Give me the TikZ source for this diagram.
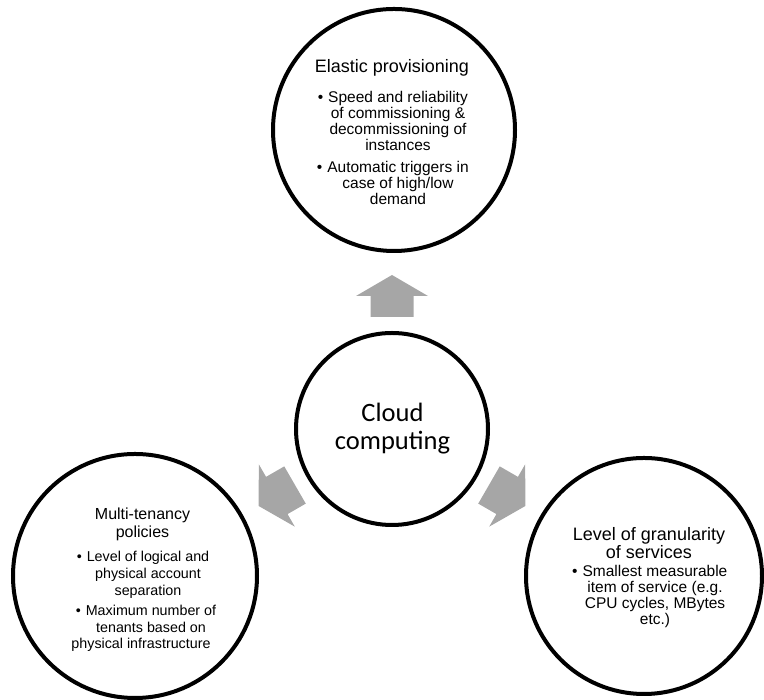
\documentclass[tikz,border=0pt]{standalone}
\usepackage{fontspec}
\setmainfont{Liberation Sans}
\newfontfamily\calibfont{Carlito}
\usetikzlibrary{calc}
\definecolor{arrowgray}{RGB}{166,166,166}
\newcommand\itembul{\llap{\textbullet\hspace{5pt}}}
\begin{document}
\begin{tikzpicture}[x=1pt,y=1pt,
  ring/.style={circle, draw=black, line width=4pt, inner sep=0pt, minimum size=#1},
  titletext/.style={font=\fontsize{18}{18}\selectfont, align=center, inner sep=0pt},
  itemtext/.style={font=\fontsize{15.5}{16.3}\selectfont, align=center, inner sep=0pt},
  smalltitle/.style={font=\fontsize{16}{18}\selectfont, align=center, inner sep=0pt},
  smallitem/.style={font=\fontsize{14.3}{16.8}\selectfont, align=center, inner sep=0pt},
  centertext/.style={font=\calibfont\fontsize{26.5}{28}\selectfont, align=center, inner sep=0pt},
  blockarrow/.style={fill=arrowgray, draw=none}]
\useasboundingbox (0,0) rectangle (764,700);
% circles
\node[ring=192pt] (C) at (392,271) {};
\node[ring=242pt] (T) at (394,570) {};
\node[ring=244pt] (L) at (135,124) {};
\node[ring=236pt] (R) at (644,124) {};
% centre text
\node[centertext] (Ctext) at (392.5,271) {Cloud\\computing};
% top circle text
\node[titletext] (Ttitle) at (392,632) {Elastic provisioning};
\node[itemtext] (Titem1) at (398,579) {\itembul Speed and reliability\\of commissioning \&\\decommissioning of\\instances};
\node[itemtext] (Titem2) at (398,517) {\itembul Automatic triggers in\\case of high/low\\demand};
% left circle text
\node[smalltitle] (Ltitle) at (142.5,176) {Multi-tenancy\\policies};
\node[smallitem] (Litem1) at (148,125) {\itembul Level of logical and\\physical account\\separation};
\node[smallitem] (Litem2) at (151,71.5) {\itembul Maximum number of\\tenants based on\\\hspace*{-20pt}physical infrastructure};
% right circle text
\node[titletext] (Rtitle) at (649,156.5) {Level of granularity\\of services};
\node[itemtext] (Ritem1) at (655,103.5) {\itembul Smallest measurable\\item of service (e.g.\\CPU cycles, MBytes\\etc.)};
% block arrows
\foreach \ang/\nm in {90/up,210/left,330/right}{
  \coordinate (A-\nm) at ($(C)+(\ang:133)$);
  \fill[blockarrow, shift={(A-\nm)}, rotate=\ang]
    (21,0) -- (0,36) -- (0,21.5) -- (-21,21.5) -- (-21,-21.5) -- (0,-21.5) -- (0,-36) -- cycle;
}
\end{tikzpicture}
\end{document}
